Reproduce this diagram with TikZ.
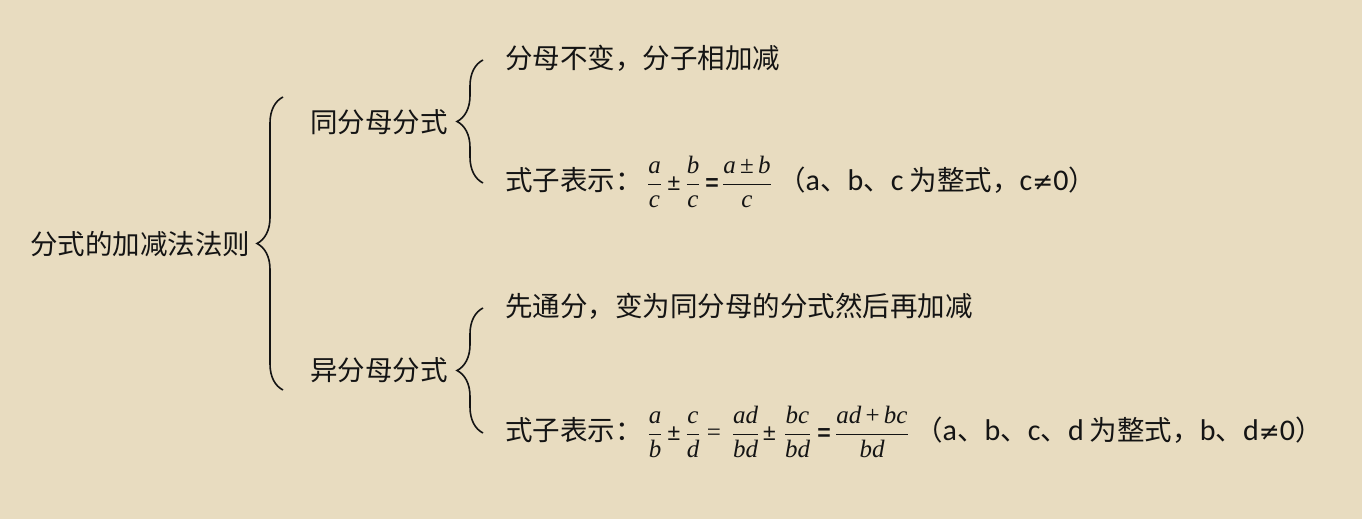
\RequirePackage{fix-cm}
\documentclass[tikz,border=0pt]{standalone}
\usepackage{fontspec}
\setmainfont{Liberation Serif}
\newfontfamily\cjkfont{Noto Sans CJK SC}
\newfontfamily\calfont{Carlito}
\newfontfamily\djfont{DejaVu Sans}
\newfontfamily\tmsfont{Liberation Serif}
\newfontfamily\lsfont{Liberation Sans}
\usetikzlibrary{decorations.pathreplacing}
\definecolor{bg}{RGB}{232,220,192}
\definecolor{ink}{RGB}{20,20,20}
\newcommand\fv[1]{\mbox{\tmsfont\itshape #1}}
\newcommand\la[1]{{\calfont\fontsize{30}{32}\selectfont #1}}
\newcommand\neqs{{\djfont\fontsize{25}{30}\selectfont ≠}}
\newcommand\op[1]{\mbox{\tmsfont #1}}
\begin{document}
\begin{tikzpicture}[x=1pt,y=-1pt,
  txt/.style={inner sep=0pt, text=ink, font=\cjkfont\fontsize{27.5}{33}\selectfont},
  frac/.style={inner sep=0pt, text=ink, anchor=base, font=\fontsize{25}{30}\selectfont,
    execute at begin node=$\displaystyle, execute at end node=$},
  sym/.style={inner sep=0pt, text=ink, anchor=base, font=\lsfont\fontsize{23}{30}\selectfont},
  bsym/.style={sym, font=\lsfont\bfseries\fontsize{23}{30}\selectfont},
  tsym/.style={sym, font=\tmsfont\fontsize{25}{30}\selectfont},
  bracestyle/.style={draw=ink, line width=1.6pt, decorate,
    decoration={brace, amplitude=26pt}}]
\fill[bg] (0,0) rectangle (1362,519);
\useasboundingbox (0,0) rectangle (1362,519);

\node[txt, anchor=west] (root) at (30,244) {分式的加减法法则};
\node[txt, anchor=west] (same) at (310,122) {同分母分式};
\node[txt, anchor=west] (diff) at (310,370) {异分母分式};
\node[txt, anchor=west] (s1) at (505,58) {分母不变，分子相加减};
\node[txt, anchor=west] (d1) at (505,306) {先通分，变为同分母的分式然后再加减};

% line 1
\node[txt, anchor=base west] (s2) at (505,190) {式子表示：};
\node[frac] (f1a) at (654.5,190) {\frac{\fv{a}}{\fv{c}}};
\node[sym] (pm1) at (674,190) {±};
\node[frac] (f1b) at (693,190) {\frac{\fv{b}}{\fv{c}}};
\node[bsym] (eq1) at (712,190) {=};
\node[frac] (f1c) at (747,190) {\frac{\fv{a}\op{\,±\,}\fv{b}}{\fv{c}}};
\node[txt, anchor=base west] (p1) at (778,190) {（\la{a}、\la{b}、\la{c} 为整式，\la{c}\neqs\la{0}）};

% line 2
\node[txt, anchor=base west] (d2) at (505,440) {式子表示：};
\node[frac] (f2a) at (655,440) {\frac{\fv{a}}{\fv{b}}};
\node[sym] (pm2) at (674,440) {±};
\node[frac] (f2b) at (693,440) {\frac{\fv{c}}{\fv{d}}};
\node[tsym] (eq2) at (714,440) {=};
\node[frac] (f2c) at (745.5,440) {\frac{\fv{ad}}{\fv{bd}}};
\node[sym] (pm3) at (769.5,440) {±};
\node[frac] (f2d) at (797.5,440) {\frac{\fv{bc}}{\fv{bd}}};
\node[bsym] (eq3) at (824,440) {=};
\node[frac] (f2e) at (872,440) {\frac{\fv{ad}\op{\,+\,}\fv{bc}}{\fv{bd}}};
\node[txt, anchor=base west] (p2) at (915,440) {（\la{a}、\la{b}、\la{c}、\la{d} 为整式，\la{b}、\la{d}\neqs\la{0}）};

\coordinate (b1t) at (283,97);
\coordinate (b1b) at (283,390);
\coordinate (b2t) at (483,60);
\coordinate (b2b) at (483,183);
\coordinate (b3t) at (483,308);
\coordinate (b3b) at (483,433);
\draw[bracestyle] (b1b) -- (b1t);
\draw[bracestyle] (b2b) -- (b2t);
\draw[bracestyle] (b3b) -- (b3t);
\end{tikzpicture}
\end{document}
